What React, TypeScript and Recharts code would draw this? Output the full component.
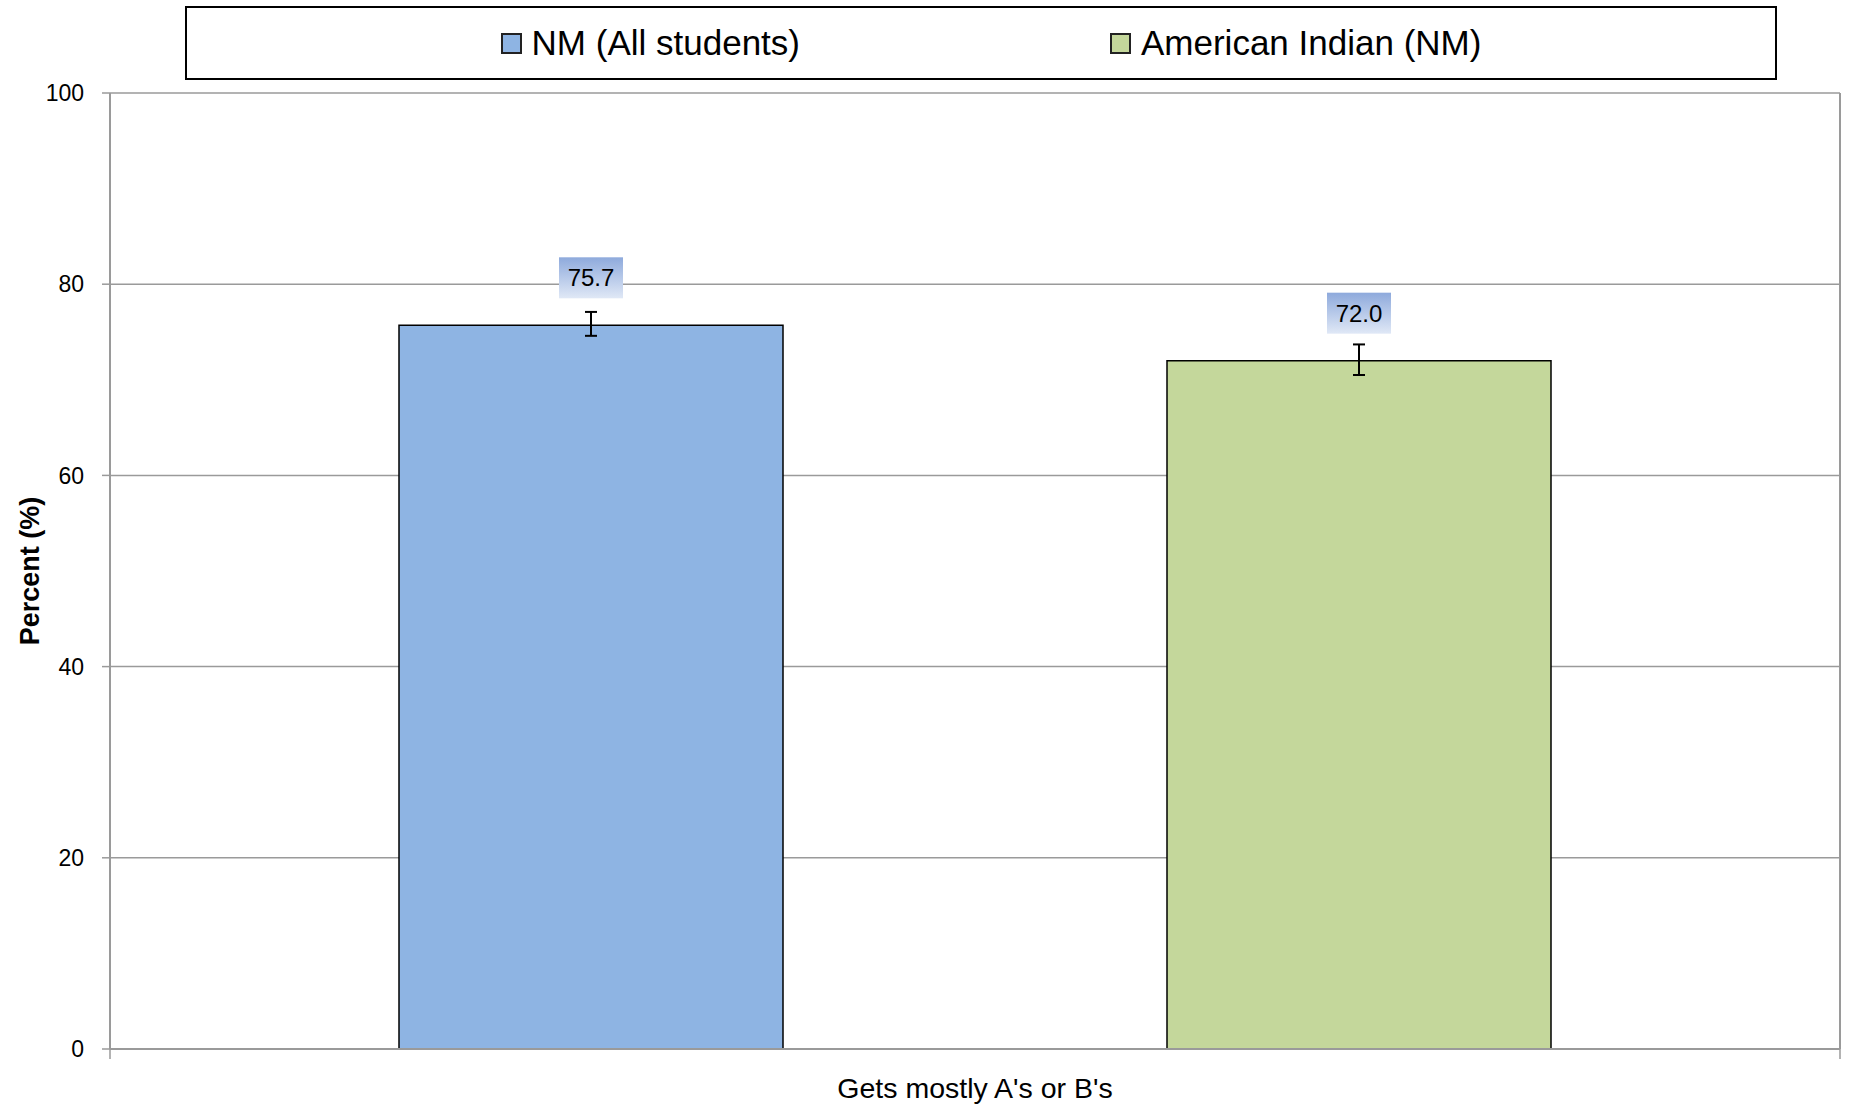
import {
  Bar,
  BarChart,
  CartesianGrid,
  ErrorBar,
  Label,
  LabelList,
  Legend,
  XAxis,
  YAxis,
} from "recharts";

// values
const categories = ["Gets mostly A's or B's"];
const seriesNames = ["NM (All students)", "American Indian (NM)"];
const nmValues = [75.7];
const aiValues = [72.0];
const nmErrors = [[1.1, 1.4]];
const aiErrors = [[1.5, 1.7]];
const yTicks = [0, 20, 40, 60, 80, 100];
const seriesColors = ["#8EB4E3", "#C4D79B"];

const FONT = "'Liberation Sans', Arial, sans-serif";
const GRID = "#9A9A9A";

const data = categories.map((c, i) => ({
  category: c,
  nm: nmValues[i],
  ai: aiValues[i],
  nmErr: nmErrors[i],
  aiErr: aiErrors[i],
}));

const ValueLabel = (props: any) => {
  const { x, y, width, value } = props;
  const cx = x + width / 2;
  const boxW = 64;
  const boxH = 41;
  const bottom = y - 27;
  return (
    <g>
      <rect
        x={cx - boxW / 2}
        y={bottom - boxH}
        width={boxW}
        height={boxH}
        fill="url(#labelGrad)"
      />
      <text
        x={cx}
        y={bottom - boxH / 2}
        textAnchor="middle"
        dominantBaseline="central"
        fontFamily={FONT}
        fontSize={24}
        fill="#000"
      >
        {Number(value).toFixed(1)}
      </text>
    </g>
  );
};

// category name in the middle, small tick marks at the band edges
const CategoryTick = (props: any) => {
  const { x, y, payload } = props;
  const half = payload.offset ?? 0;
  return (
    <g>
      <line x1={x - half} x2={x - half} y1={y} y2={y + 10} stroke={GRID} strokeWidth={1.5} />
      <line x1={x + half} x2={x + half} y1={y} y2={y + 10} stroke={GRID} strokeWidth={1.5} />
      <text
        x={x}
        y={y + 49}
        textAnchor="middle"
        fontFamily={FONT}
        fontSize={28.5}
        fill="#000"
      >
        {payload.value}
      </text>
    </g>
  );
};

const LegendBox = () => (
  <div
    style={{
      boxSizing: "border-box",
      height: 74,
      border: "2px solid #000",
      background: "#fff",
      display: "flex",
      alignItems: "center",
      justifyContent: "center",
      gap: 310,
      paddingLeft: 20,
      fontFamily: FONT,
      fontSize: 35,
      color: "#000",
    }}
  >
    {seriesNames.map((name, i) => (
      <div key={name} style={{ display: "flex", alignItems: "center" }}>
        <span
          style={{
            display: "inline-block",
            width: 17,
            height: 17,
            border: "2px solid #222",
            background: seriesColors[i],
            marginRight: 10,
          }}
        />
        <span>{name}</span>
      </div>
    ))}
  </div>
);

export default function App() {
  return (
    <div style={{ position: "absolute", left: 0, top: 0, background: "#fff" }}>
      <BarChart
        width={1849}
        height={1109}
        data={data}
        margin={{ top: 19, right: 8, bottom: 0, left: 0 }}
        barCategoryGap={289}
        barGap={384}
      >
        <defs>
          <linearGradient id="labelGrad" x1="0" x2="0" y1="0" y2="1">
            <stop offset="0%" stopColor="#8EAADC" />
            <stop offset="100%" stopColor="#E0E8F6" />
          </linearGradient>
        </defs>
        <Legend
          verticalAlign="top"
          content={<LegendBox />}
          wrapperStyle={{ left: 185, top: 6, width: 1592 }}
        />
        <CartesianGrid
          vertical={false}
          stroke={GRID}
          strokeWidth={1.5}
          strokeOpacity={1}
        />
        <XAxis
          dataKey="category"
          height={60}
          tickSize={0}
          tickMargin={0}
          tickLine={false}
          axisLine={{ stroke: GRID, strokeWidth: 2 }}
          tick={<CategoryTick />}
          interval={0}
        />
        <YAxis
          domain={[0, 100]}
          ticks={yTicks}
          width={110}
          tickSize={8}
          tickMargin={18}
          tickLine={{ stroke: GRID, strokeWidth: 1.5 }}
          axisLine={{ stroke: GRID, strokeWidth: 2 }}
          tick={{ fontFamily: FONT, fontSize: 23, fill: "#000" }}
        >
          <Label
            value="Percent (%)"
            angle={-90}
            position="insideLeft"
            offset={29}
            style={{
              fontFamily: FONT,
              fontSize: 27,
              fontWeight: "bold",
              fill: "#000",
              textAnchor: "middle",
            }}
          />
        </YAxis>
        <YAxis
          yAxisId="right"
          orientation="right"
          domain={[0, 100]}
          tick={false}
          tickLine={false}
          axisLine={{ stroke: GRID, strokeWidth: 2 }}
          width={1}
        />
        <Bar
          dataKey="nm"
          name={seriesNames[0]}
          fill={seriesColors[0]}
          stroke="#000"
          strokeWidth={1.5}
          isAnimationActive={false}
        >
          <ErrorBar dataKey="nmErr" width={6} stroke="#000" strokeWidth={2} />
          <LabelList dataKey="nm" content={<ValueLabel />} />
        </Bar>
        <Bar
          dataKey="ai"
          name={seriesNames[1]}
          fill={seriesColors[1]}
          stroke="#000"
          strokeWidth={1.5}
          isAnimationActive={false}
        >
          <ErrorBar dataKey="aiErr" width={6} stroke="#000" strokeWidth={2} />
          <LabelList dataKey="ai" content={<ValueLabel />} />
        </Bar>
      </BarChart>
    </div>
  );
}
